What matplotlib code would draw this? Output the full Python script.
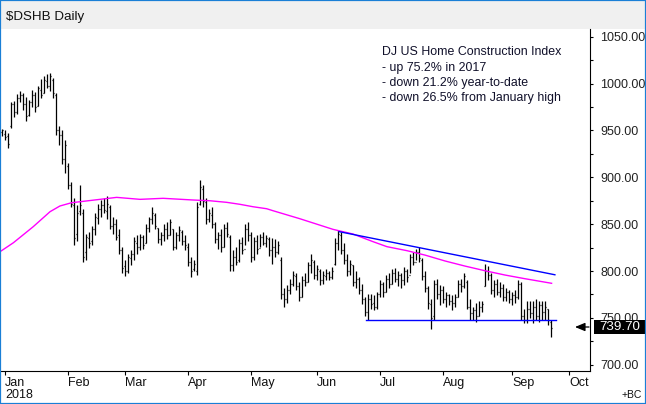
import matplotlib
matplotlib.use("Agg")
import matplotlib.pyplot as plt
import pandas as pd
from matplotlib.patches import Rectangle

# ---------------- data ----------------
holidays = ["2018-01-01", "2018-01-15", "2018-02-19", "2018-03-30",
            "2018-05-28", "2018-07-04", "2018-09-03"]
start_date = "2017-12-29"

opens = [
    948, 946, 944, 955, 978, 970, 985, 988, 978, 966, 980, 988, 976, 993, 990, 1003, 997, 1004, 988, 950, 945, 920,
    912, 892, 870, 840, 864, 862, 820, 835, 832, 845, 857, 866, 870, 864, 868, 848, 850, 838, 822, 805,
    800, 814, 818, 830, 826, 836, 830, 846, 855, 860, 846, 834, 838, 845, 838, 845, 826, 838, 842, 832,
    826, 810, 802, 800, 872, 888, 874, 856, 860, 850, 834, 838, 826, 846, 836, 806, 815, 812, 830, 824, 845,
    838, 815, 832, 825, 836, 830, 834, 822, 826, 820, 812, 776, 770, 780, 786, 795, 784, 772, 790, 788, 806, 810,
    796, 800, 790, 795, 798, 794, 808, 830, 838, 822, 812, 800, 806, 788, 792, 780, 770, 756, 770, 766, 762,
    775, 786, 778, 792, 786, 798, 792, 796, 790, 800, 796, 815, 810, 820, 812, 795, 782, 765, 752, 786, 776,
    780, 770, 774, 768, 766, 772, 786, 784, 788, 762, 755, 758, 752, 762, 784, 800, 796, 780, 786, 778, 782, 772, 778,
    770, 774, 772, 786, 752, 748, 760, 755, 762, 752, 764, 756, 760, 746,
]
highs = [
    952, 950, 947, 980, 981, 989, 992, 990, 986, 982, 993, 991, 998, 1005, 1008, 1010, 1011, 1006, 990, 955, 950, 940,
    915, 895, 878, 870, 892, 866, 840, 842, 848, 862, 872, 876, 878, 880, 870, 858, 856, 845, 826, 812,
    818, 822, 836, 838, 840, 838, 850, 858, 868, 862, 846, 842, 850, 852, 856, 845, 842, 848, 844, 838,
    830, 815, 812, 874, 897, 892, 878, 866, 868, 852, 842, 845, 850, 852, 838, 822, 826, 834, 836, 850, 852,
    842, 836, 838, 840, 842, 838, 836, 835, 834, 832, 815, 782, 785, 792, 800, 798, 788, 795, 798, 810, 818, 812,
    806, 802, 800, 802, 800, 804, 835, 844, 842, 830, 818, 812, 806, 800, 794, 786, 772, 776, 775, 774, 778,
    790, 788, 796, 798, 802, 803, 800, 798, 804, 802, 818, 820, 824, 826, 814, 800, 784, 770, 790, 792, 785,
    784, 778, 776, 774, 776, 790, 792, 798, 790, 770, 762, 766, 768, 768, 808, 805, 798, 790, 792, 788, 786, 782, 780,
    778, 780, 790, 788, 760, 768, 768, 768, 770, 768, 768, 768, 760, 748,
]
lows = [
    944, 940, 931, 953, 964, 968, 980, 972, 960, 965, 975, 970, 976, 985, 990, 995, 992, 985, 945, 935, 914, 905,
    888, 868, 828, 832, 860, 810, 812, 825, 828, 838, 850, 858, 862, 856, 845, 840, 833, 818, 798, 795,
    798, 806, 812, 818, 822, 824, 830, 842, 850, 845, 830, 828, 832, 834, 838, 822, 824, 832, 828, 822,
    805, 794, 800, 796, 870, 868, 850, 852, 846, 830, 824, 820, 826, 836, 800, 800, 806, 810, 818, 828, 832,
    810, 812, 818, 826, 828, 826, 816, 808, 815, 818, 770, 762, 766, 776, 784, 780, 768, 772, 784, 788, 798, 792,
    790, 785, 786, 790, 790, 792, 806, 822, 818, 808, 795, 796, 784, 782, 776, 765, 752, 748, 760, 758, 760,
    772, 772, 778, 782, 786, 788, 784, 782, 785, 788, 798, 806, 812, 810, 790, 778, 760, 738, 748, 770, 764,
    766, 762, 764, 758, 762, 772, 778, 782, 760, 748, 748, 746, 752, 756, 784, 790, 776, 772, 774, 772, 768, 768, 766,
    764, 766, 770, 748, 745, 744, 750, 744, 748, 746, 748, 748, 742, 730,
]
closes = [
    950, 943, 936, 978, 970, 985, 988, 978, 965, 980, 988, 975, 995, 988, 1004, 997, 1008, 990, 950, 945, 920, 935,
    892, 872, 835, 862, 870, 815, 836, 830, 845, 858, 866, 870, 865, 872, 848, 850, 836, 822, 803, 800,
    815, 818, 832, 826, 836, 828, 846, 855, 862, 848, 834, 838, 845, 838, 852, 826, 838, 844, 832, 828,
    810, 800, 808, 868, 890, 875, 856, 862, 850, 834, 838, 826, 846, 840, 806, 815, 810, 830, 822, 845, 838,
    815, 832, 824, 836, 830, 835, 822, 826, 820, 828, 775, 770, 780, 786, 796, 784, 772, 790, 788, 806, 812, 796,
    802, 790, 796, 798, 794, 800, 830, 840, 822, 812, 800, 808, 788, 792, 780, 770, 756, 770, 765, 762, 775,
    786, 778, 792, 786, 798, 792, 796, 790, 800, 794, 815, 810, 820, 814, 795, 782, 766, 750, 786, 776, 780,
    770, 774, 768, 766, 772, 786, 784, 795, 762, 755, 758, 752, 762, 765, 800, 796, 780, 786, 778, 782, 772, 778, 770,
    774, 772, 786, 752, 748, 760, 755, 762, 752, 764, 756, 762, 748, 739.70,
]

# moving average (bar position, value)
ma_pos = [-0.67, 3.8, 10.4, 16, 19.3, 23.2, 32.7, 38.2, 46, 53.7, 63.7, 69.3, 74.9, 79.3, 83.7,
          88.2, 90.3, 99.3, 110.3, 117, 123.7, 128.3, 135, 141, 147.7, 154.3, 161, 167.7, 174.3, 183.2]
ma_val = [820.6, 830.2, 847.3, 863.3, 869.4, 872.9, 876.5, 878.6, 876.5, 877.6, 875.8, 875.0, 873.3, 871.2, 868.6,
          866.5, 864.4, 855.8, 844.5, 839.5, 831.3, 826.0, 821.7, 817.0, 810.7, 805.3, 800.3, 795.7, 791.8, 786.9]

# trend lines (bar position, value)
upper_pos = [112.4, 184.3]
upper_val = [842.0, 796.0]
lower_pos = [121.3, 184.7]
lower_val = [747.5, 747.5]

last_price = 739.70
y_ticks = [700, 750, 800, 850, 900, 950, 1000, 1050]
notes = ["DJ US Home Construction Index",
         "- up 75.2% in 2017",
         "- down 21.2% year-to-date",
         "- down 26.5% from January high"]

assert len(opens) == len(highs) == len(lows) == len(closes), (len(opens), len(highs), len(lows), len(closes))

# ---------------- figure ----------------
W, H = 646, 404
fig = plt.figure(figsize=(W / 100, H / 100), dpi=100)
fig.patch.set_facecolor("white")

font = "Liberation Sans"

# header band
fig.patches.append(Rectangle((0, 1 - 29 / H), 1, 29 / H, transform=fig.transFigure,
                             facecolor="#f0f0f0", edgecolor="none", zorder=-1))
fig.text(6 / W, 1 - 17 / H, "$DSHB Daily", family=font, fontsize=9.6,
         ha="left", va="center", color="#111111")

ax = fig.add_axes([0, 33 / H, 590 / W, 342 / H])
ax.set_facecolor("none")

pos = list(range(len(closes)))
ax.vlines(pos, lows, highs, color="black", lw=0.9)
ax.hlines(opens, [p - 0.45 for p in pos], pos, color="black", lw=0.9)
ax.hlines(closes, pos, [p + 0.45 for p in pos], color="black", lw=0.9)

ax.plot(ma_pos, ma_val, color="#ff00ff", lw=1.0)
ax.plot(upper_pos, upper_val, color="#0000ff", lw=1.0)
ax.plot(lower_pos, lower_val, color="#0000ff", lw=1.0)

ax.set_xlim(-0.67, 196)
ax.set_ylim(693.3, 1058.3)

# x axis: trading-day calendar, ticks at first trading day of each month
days = pd.bdate_range(start_date, "2018-10-31", freq="C", holidays=holidays)
month_first = [i for i in range(1, len(days)) if days[i].month != days[i - 1].month]
month_labels = [days[i].strftime("%b") + ("\n" + days[i].strftime("%Y") if days[i].month == 1 else "")
                for i in month_first]
ax.set_xticks(month_first)
ax.set_xticklabels(month_labels, family=font, fontsize=9, ha="left", color="#111111",
                   linespacing=0.95)
ax.tick_params(axis="x", direction="out", length=3, width=0.8, pad=1.5, color="black")

ax.yaxis.tick_right()
ax.set_yticks(y_ticks)
ax.set_yticklabels([f"{v:.2f}" for v in y_ticks], family=font, fontsize=9, color="#222222")
ax.set_yticks([v + 25 for v in y_ticks[:-1]], minor=True)
ax.tick_params(axis="y", which="both", direction="out", length=2.5, width=0.8, pad=5, color="black")

for s in ("top", "left"):
    ax.spines[s].set_visible(False)
for s in ("right", "bottom"):
    ax.spines[s].set_color("black")
    ax.spines[s].set_linewidth(0.8)

# annotation text
for k, line in enumerate(notes):
    fig.text(382 / W, 1 - (52 + 15.5 * k) / H, line, family=font, fontsize=8.9,
             ha="left", va="center", color="#10102a")

# last price tag
ypix = H - 327
fig.patches.append(Rectangle((594 / W, (H - 334) / H), 52 / W, 14 / H, transform=fig.transFigure,
                             facecolor="black", edgecolor="none", zorder=5))
fig.text(620 / W, ypix / H, f"{last_price:.2f}", family=font, fontsize=9.6, color="white",
         ha="center", va="center", zorder=6)
ax.annotate("", xy=(575, ypix), xytext=(589, ypix), xycoords="figure pixels", textcoords="figure pixels",
            arrowprops=dict(arrowstyle="-|>,head_length=0.6,head_width=0.25", color="black", lw=0.9,
                            shrinkA=0, shrinkB=0), annotation_clip=False)

fig.text(642 / W, 9 / H, "+BC", family=font, fontsize=7.5, ha="right", va="center", color="#111111")

# outer blue border
fig.patches.append(Rectangle((0, 0), 1, 1, transform=fig.transFigure, fill=False,
                             edgecolor="#1a7fd6", lw=1.6, zorder=10))

fig.savefig("out.png", dpi=100)
